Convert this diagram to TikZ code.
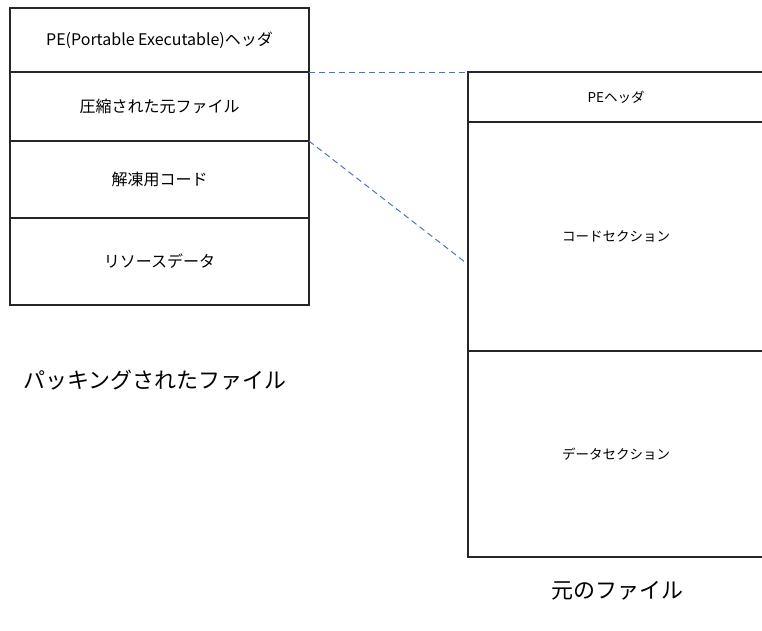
\documentclass[tikz,border=0pt]{standalone}
\usepackage{fontspec}
\setmainfont{Noto Sans CJK JP}
\usetikzlibrary{positioning}
\definecolor{linkblue}{RGB}{79,114,190}
\tikzset{
  cell/.style={draw=black!85, line width=1.5pt, minimum width=299pt, inner sep=0pt, outer sep=0pt, font=\fontsize{16}{19}\selectfont},
  rcell/.style={cell, minimum width=296pt, font=\fontsize{13.5}{16}\selectfont},
  caption/.style={font=\fontsize{22}{26}\selectfont},
  link/.style={linkblue, dash pattern=on 6pt off 4pt, line width=1pt}
}

\begin{document}
\begin{tikzpicture}[x=1pt, y=1pt]
  \useasboundingbox (0,0) rectangle (762,-630);
  \clip (0,0) rectangle (762,-630);

  % packed file
  \node[cell, minimum height=64pt, anchor=north west] (pehead) at (10,-8) {PE(Portable Executable)ヘッダ};
  \node[cell, minimum height=69pt, below=0pt of pehead] (packed) {圧縮された元ファイル};
  \node[cell, minimum height=77pt, below=0pt of packed] (unpacker) {解凍用コード};
  \node[cell, minimum height=87pt, below=0pt of unpacker] (resource) {リソースデータ};
  \node[caption, anchor=west] (packlabel) at (20,-380) {パッキングされたファイル};

  % original file
  \node[rcell, minimum height=50pt, anchor=north west] (orighead) at (468,-72) {PEヘッダ};
  \node[rcell, minimum height=229pt, below=0pt of orighead] (codesec) {コードセクション};
  \node[rcell, minimum height=206pt, below=0pt of codesec] (datasec) {データセクション};
  \node[caption] (origlabel) at (617,-591) {元のファイル};

  \coordinate (linkend) at (465,-262);
  \draw[link] (packed.north east) -- (orighead.north west);
  \draw[link] (unpacker.north east) -- (linkend);
\end{tikzpicture}
\end{document}
